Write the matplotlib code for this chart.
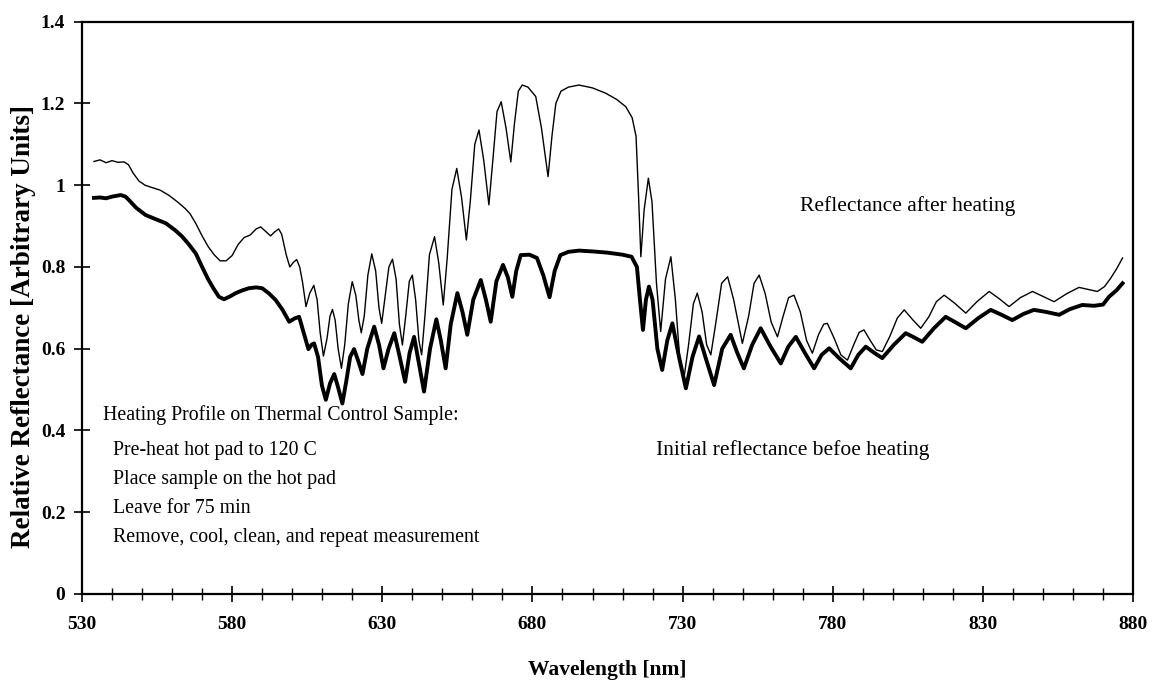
#!/usr/bin/env python3
"""Reflectance spectra of the thermal control sample, before and after heating."""

import matplotlib

matplotlib.use("Agg")
import matplotlib.pyplot as plt  # noqa: E402
from matplotlib.ticker import FixedLocator, MultipleLocator  # noqa: E402

# Values (nm, arbitrary units).
WL_AFTER = [
    534.0, 536.0, 538.0, 540.0, 542.0, 544.0, 545.5, 547.0, 549.0, 551.0,
    553.0, 556.0, 559.0, 562.0, 564.5, 566.0, 568.0, 570.0, 572.0, 574.0,
    576.0, 578.0, 580.0, 582.0, 584.0, 586.0, 588.0, 589.5, 591.0, 592.8,
    594.2, 595.5, 596.5, 598.0, 599.2, 600.5, 601.5, 602.5, 603.5, 604.6,
    605.8, 607.2, 608.3, 609.3, 610.4, 611.6, 612.6, 613.4, 614.3, 615.3,
    616.4, 617.5, 618.7, 620.0, 621.2, 622.2, 623.0, 624.0, 625.2, 626.5,
    627.8, 628.9, 629.8, 630.8, 632.2, 633.4, 634.6, 635.7, 636.7, 637.8,
    639.0, 640.0, 641.1, 642.2, 643.1, 644.2, 645.7, 647.4, 648.8, 650.3,
    651.6, 653.2, 654.8, 656.4, 658.0, 659.3, 660.8, 662.2, 663.8, 665.5,
    666.8, 668.2, 669.6, 671.2, 672.8, 674.0, 675.3, 676.6, 678.5, 681.1,
    683.0, 685.2, 686.5, 687.8, 689.5, 692.0, 695.5, 700.0, 704.4, 708.0,
    711.1, 713.2, 714.5, 715.3, 716.1, 717.2, 718.6, 719.8, 721.3, 722.7,
    724.3, 726.1, 727.6, 729.0, 730.4, 732.0, 733.6, 734.9, 736.5, 738.0,
    739.4, 741.0, 743.0, 745.0, 747.0, 749.9, 752.0, 753.8, 755.5, 757.5,
    759.5, 761.6, 763.5, 765.3, 767.1, 769.2, 771.3, 773.2, 775.3, 777.0,
    778.2, 780.5, 782.7, 784.9, 787.0, 788.8, 790.4, 792.5, 794.5, 796.5,
    799.0, 801.5, 803.8, 806.5, 809.3, 812.0, 814.5, 817.1, 820.5, 824.3,
    828.0, 832.1, 835.5, 838.7, 842.5, 846.5, 850.0, 853.7, 858.0, 862.0,
    865.0, 868.1, 870.5, 872.5, 874.5, 876.5,
]
R_AFTER = [
    1.058, 1.062, 1.055, 1.060, 1.056, 1.057, 1.050, 1.030, 1.010, 1.000,
    0.995, 0.988, 0.975, 0.958, 0.942, 0.930, 0.905, 0.876, 0.850, 0.830,
    0.815, 0.815, 0.828, 0.855, 0.872, 0.878, 0.893, 0.898, 0.888, 0.876,
    0.886, 0.893, 0.880, 0.830, 0.800, 0.812, 0.818, 0.800, 0.760, 0.703,
    0.735, 0.755, 0.720, 0.640, 0.582, 0.625, 0.680, 0.696, 0.670, 0.600,
    0.552, 0.610, 0.710, 0.764, 0.730, 0.670, 0.639, 0.680, 0.780, 0.832,
    0.790, 0.700, 0.662, 0.720, 0.800, 0.819, 0.770, 0.660, 0.609, 0.680,
    0.765, 0.780, 0.720, 0.620, 0.585, 0.680, 0.830, 0.874, 0.810, 0.707,
    0.820, 0.990, 1.041, 0.970, 0.866, 0.960, 1.100, 1.135, 1.060, 0.952,
    1.060, 1.180, 1.204, 1.140, 1.057, 1.150, 1.230, 1.245, 1.240, 1.217,
    1.140, 1.021, 1.120, 1.200, 1.230, 1.240, 1.245, 1.238, 1.225, 1.210,
    1.192, 1.165, 1.120, 0.980, 0.825, 0.940, 1.017, 0.960, 0.760, 0.642,
    0.770, 0.825, 0.720, 0.580, 0.525, 0.610, 0.710, 0.736, 0.690, 0.610,
    0.585, 0.660, 0.760, 0.776, 0.720, 0.613, 0.680, 0.760, 0.780, 0.735,
    0.665, 0.629, 0.680, 0.725, 0.731, 0.690, 0.620, 0.589, 0.635, 0.660,
    0.662, 0.625, 0.585, 0.572, 0.610, 0.640, 0.646, 0.620, 0.597, 0.593,
    0.630, 0.675, 0.695, 0.672, 0.650, 0.678, 0.715, 0.731, 0.712, 0.687,
    0.715, 0.740, 0.722, 0.703, 0.725, 0.740, 0.728, 0.715, 0.735, 0.750,
    0.745, 0.740, 0.752, 0.772, 0.795, 0.822,
]

WL_BEFORE = [
    534.0, 536.0, 538.0, 540.0, 542.9, 544.5, 545.6, 548.0, 551.2, 554.5,
    557.9, 561.0, 563.4, 565.5, 567.9, 570.0, 572.0, 574.0, 575.6, 577.3,
    579.3, 581.2, 583.5, 585.6, 588.0, 590.0, 592.3, 594.5, 596.8, 599.0,
    600.8, 602.3, 603.8, 605.4, 606.5, 607.3, 608.6, 609.9, 611.2, 612.6,
    614.0, 615.3, 616.7, 618.0, 619.3, 620.6, 622.0, 623.4, 625.0, 627.3,
    628.9, 630.4, 632.1, 634.0, 635.8, 637.6, 639.1, 640.6, 642.3, 643.9,
    645.9, 648.0, 649.5, 651.1, 652.8, 655.0, 656.7, 658.3, 660.3, 662.8,
    664.5, 666.1, 668.0, 670.2, 671.8, 673.3, 674.6, 676.1, 679.0, 681.5,
    683.6, 685.7, 687.4, 689.3, 692.0, 695.5, 700.0, 705.0, 710.0, 713.0,
    714.8, 715.8, 716.8, 717.8, 718.8, 720.0, 721.6, 723.2, 724.9, 726.6,
    728.8, 731.1, 733.3, 735.5, 738.0, 740.5, 743.2, 746.0, 748.2, 750.4,
    753.2, 756.0, 759.3, 762.7, 765.2, 767.7, 770.7, 773.8, 776.3, 778.8,
    782.4, 786.0, 788.5, 791.0, 793.8, 796.5, 800.4, 804.3, 807.0, 809.8,
    813.7, 817.6, 821.0, 824.3, 828.5, 832.6, 836.2, 839.8, 843.5, 847.0,
    851.0, 855.4, 859.0, 863.1, 867.0, 870.0, 872.0, 874.5, 876.5,
]
R_BEFORE = [
    0.969, 0.970, 0.968, 0.972, 0.976, 0.972, 0.964, 0.945, 0.927, 0.917,
    0.907, 0.890, 0.874, 0.856, 0.833, 0.800, 0.770, 0.745, 0.727, 0.721,
    0.728, 0.736, 0.743, 0.748, 0.750, 0.748, 0.735, 0.719, 0.695, 0.666,
    0.674, 0.678, 0.640, 0.599, 0.610, 0.613, 0.580, 0.510, 0.475, 0.515,
    0.538, 0.505, 0.466, 0.520, 0.580, 0.599, 0.570, 0.538, 0.600, 0.654,
    0.610, 0.552, 0.600, 0.638, 0.580, 0.519, 0.590, 0.629, 0.560, 0.495,
    0.600, 0.672, 0.620, 0.552, 0.660, 0.736, 0.690, 0.634, 0.720, 0.768,
    0.720, 0.666, 0.765, 0.805, 0.775, 0.727, 0.790, 0.829, 0.830, 0.822,
    0.780, 0.726, 0.790, 0.829, 0.837, 0.840, 0.838, 0.835, 0.830, 0.825,
    0.800, 0.720, 0.646, 0.720, 0.752, 0.720, 0.600, 0.548, 0.620, 0.662,
    0.580, 0.503, 0.580, 0.630, 0.570, 0.511, 0.600, 0.634, 0.590, 0.552,
    0.610, 0.650, 0.605, 0.564, 0.605, 0.629, 0.590, 0.552, 0.585, 0.601,
    0.575, 0.552, 0.585, 0.605, 0.590, 0.577, 0.610, 0.638, 0.628, 0.617,
    0.650, 0.678, 0.664, 0.650, 0.675, 0.695, 0.683, 0.670, 0.685, 0.695,
    0.690, 0.683, 0.697, 0.707, 0.705, 0.708, 0.727, 0.743, 0.760,
]

X_TICKS = [530, 580, 630, 680, 730, 780, 830, 880]
Y_TICKS = [0, 0.2, 0.4, 0.6, 0.8, 1.0, 1.2, 1.4]
Y_TICK_LABELS = ["0", "0.2", "0.4", "0.6", "0.8", "1", "1.2", "1.4"]

PROFILE_LINES = [
    "Heating Profile on Thermal Control Sample:",
    "  Pre-heat hot pad to 120 C",
    "  Place sample on the hot pad",
    "  Leave for 75 min",
    "  Remove, cool, clean, and repeat measurement",
]
PROFILE_Y = [0.438, 0.352, 0.279, 0.210, 0.139]

SERIF = ["Liberation Serif", "DejaVu Serif"]


def main() -> None:
    plt.rcParams["font.family"] = SERIF

    fig = plt.figure(figsize=(11.53, 6.84), dpi=100)
    ax = fig.add_axes([0.0711, 0.1316, 0.9116, 0.8367])

    ax.plot(WL_AFTER, R_AFTER, color="black", linewidth=1.0)
    ax.plot(WL_BEFORE, R_BEFORE, color="black", linewidth=2.8)

    ax.set_xlim(530, 880)
    ax.set_ylim(0, 1.4)
    ax.xaxis.set_major_locator(FixedLocator(X_TICKS))
    ax.xaxis.set_minor_locator(MultipleLocator(10))
    ax.yaxis.set_major_locator(FixedLocator(Y_TICKS))
    ax.set_yticklabels(Y_TICK_LABELS)

    for side in ("left", "bottom", "top", "right"):
        ax.spines[side].set_linewidth(1.6)

    ax.tick_params(axis="both", which="major", direction="inout", length=12,
                   width=1.2, labelsize=14, pad=6)
    ax.tick_params(axis="x", which="minor", direction="inout", length=9, width=1.0)
    ax.tick_params(axis="x", which="major", pad=10)
    for lbl in ax.get_xticklabels() + ax.get_yticklabels():
        lbl.set_fontweight("bold")

    ax.set_xlabel("Wavelength [nm]", fontsize=15.5, fontweight="bold", va="center")
    ax.xaxis.set_label_coords(0.5, -0.132)
    ax.set_ylabel("Relative Reflectance [Arbitrary Units]", fontsize=19.5,
                  fontweight="bold", va="center")
    ax.yaxis.set_label_coords(-0.056, 0.467)

    ax.text(769, 0.949, "Reflectance after heating", fontsize=15.5, ha="left", va="center")
    ax.text(721, 0.352, "Initial reflectance befoe heating", fontsize=15.5,
            ha="left", va="center")

    for line, yy in zip(PROFILE_LINES, PROFILE_Y):
        ax.text(537.0, yy, line, fontsize=14.3, ha="left", va="center")

    fig.savefig("out.png", dpi=100)
    plt.close(fig)


if __name__ == "__main__":
    main()
